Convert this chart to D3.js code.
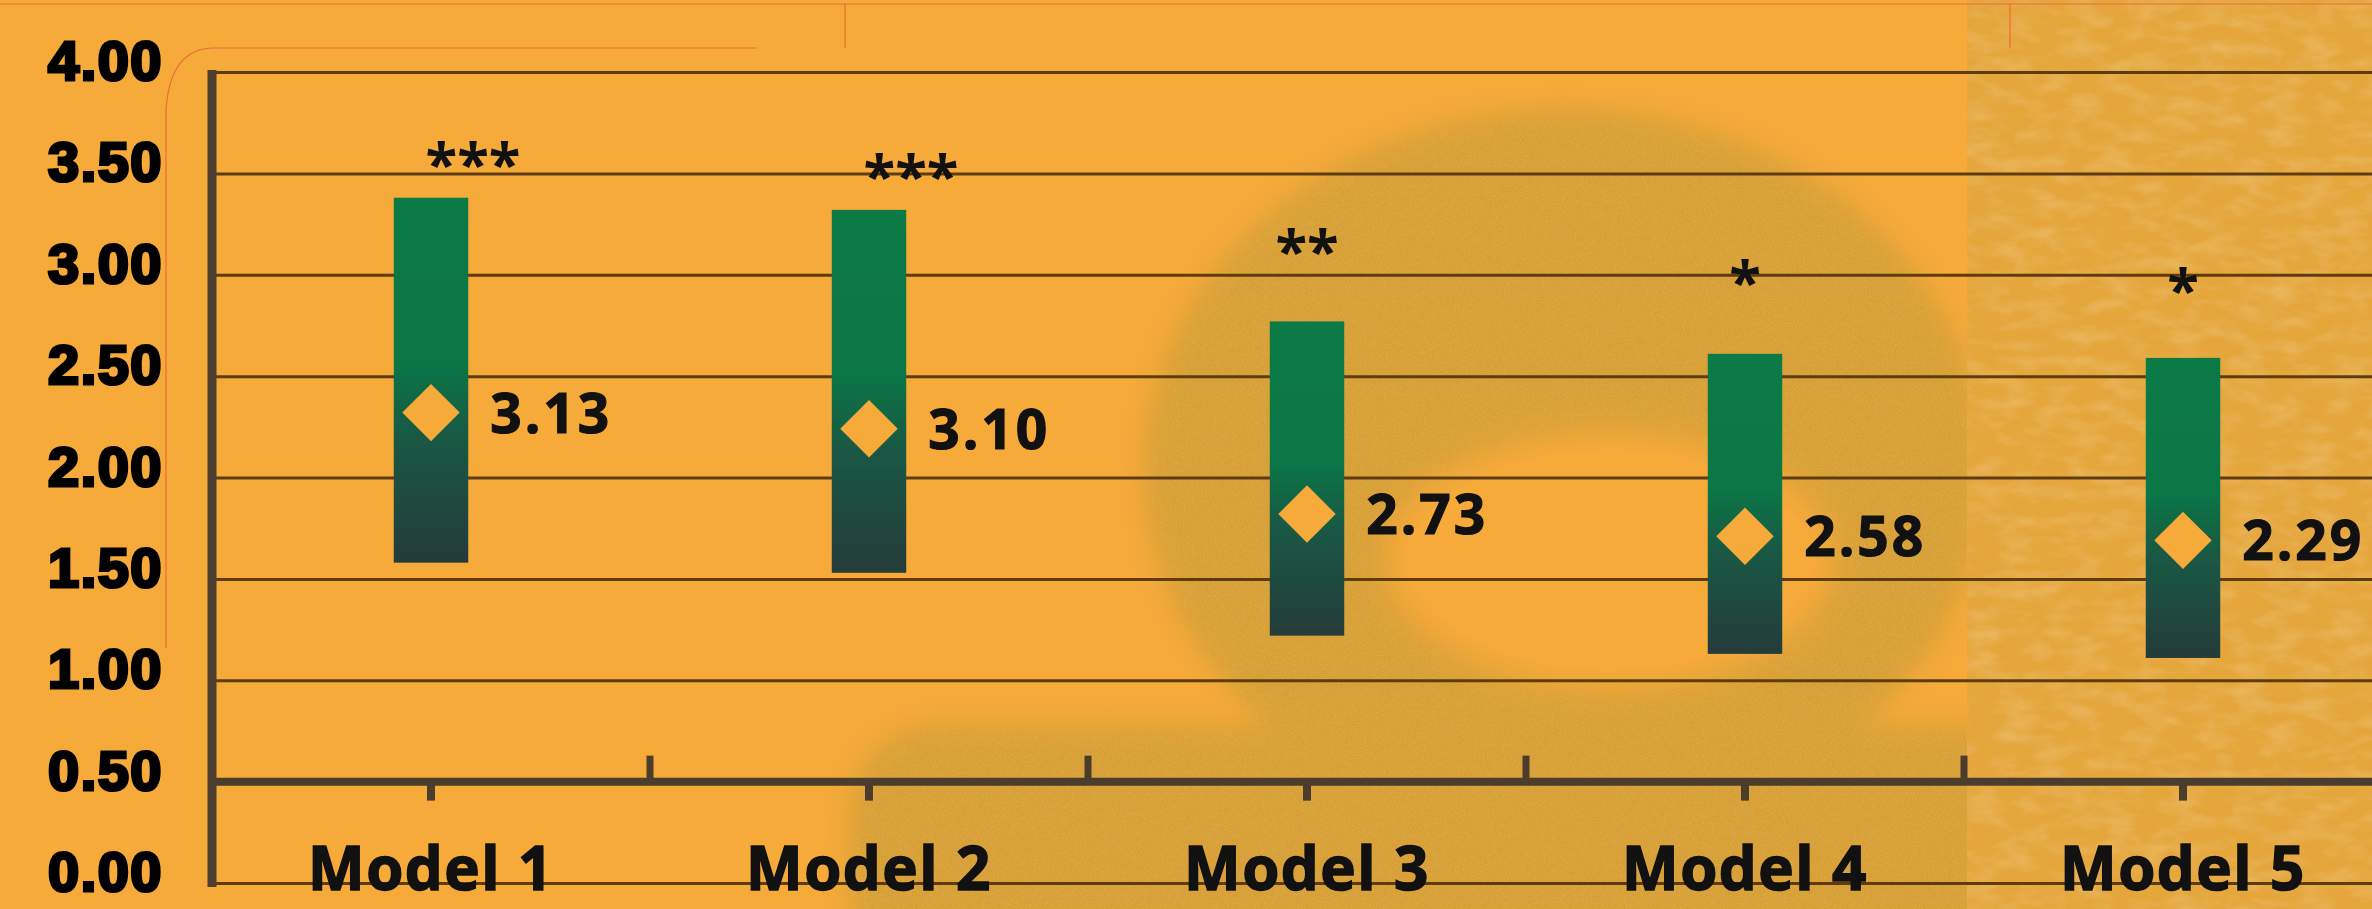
<!DOCTYPE html>
<html>
<head>
<meta charset="utf-8">
<script src="https://cdn.jsdelivr.net/npm/d3@7"></script>
<style>
  html, body { margin: 0; padding: 0; background: #f5aa3a; overflow: hidden; }
</style>
</head>
<body>
<div id="chart"></div>
<script>
const W = 2372
const H = 909

// chart values
const models = ["Model 1", "Model 2", "Model 3", "Model 4", "Model 5"]
const upper = [3.38, 3.32, 2.77, 2.61, 2.59]
const lower = [1.58, 1.53, 1.22, 1.13, 1.11]
const point = [2.32, 2.24, 1.82, 1.71, 1.69]
const valueLabels = ["3.13", "3.10", "2.73", "2.58", "2.29"]
const stars = ["***", "***", "**", "*", "*"]
const starLevel = [3.59, 3.53, 3.16, 3.01, 2.97]
const yTicks = [0, 0.5, 1, 1.5, 2, 2.5, 3, 3.5, 4]

const rows = models.map((m, i) => ({
    model: m, hi: upper[i], lo: lower[i], mid: point[i],
    label: valueLabels[i], star: stars[i], starAt: starLevel[i]
}))

const svg = d3.select("#chart")
    .append("svg")
    .attr("width", W)
    .attr("height", H)

const defs = svg.append("defs")

// grain for the faded letter in the background
const grain = defs.append("filter").attr("id", "grain")
    .attr("x", 0).attr("y", 0).attr("width", "100%").attr("height", "100%")
grain.append("feTurbulence").attr("type", "fractalNoise")
    .attr("baseFrequency", 1.1).attr("numOctaves", 1).attr("seed", 4).attr("result", "n")
grain.append("feColorMatrix").attr("in", "n").attr("type", "matrix")
    .attr("values", "0 0 0 0 0.64  0 0 0 0 0.42  0 0 0 0 0.06  0 0 0 3.6 -1.55")
    .attr("result", "dots")
grain.append("feFlood").attr("flood-color", "#dc9c34").attr("result", "base")
grain.append("feComposite").attr("in", "dots").attr("in2", "base").attr("operator", "over")

const grain2 = defs.append("filter").attr("id", "grain2")
    .attr("x", 0).attr("y", 0).attr("width", "100%").attr("height", "100%")
grain2.append("feTurbulence").attr("type", "fractalNoise")
    .attr("baseFrequency", "0.03 0.07").attr("numOctaves", 3).attr("seed", 9).attr("result", "n")
grain2.append("feColorMatrix").attr("in", "n").attr("type", "matrix")
    .attr("values", "0 0 0 0 0.93  0 0 0 0 0.70  0 0 0 0 0.28  0 0 0 0.5 -0.2")
    .attr("result", "dots")
grain2.append("feFlood").attr("flood-color", "#e5a63b").attr("result", "base")
grain2.append("feComposite").attr("in", "dots").attr("in2", "base").attr("operator", "over")

const soft = defs.append("filter").attr("id", "soft")
soft.append("feGaussianBlur").attr("stdDeviation", 12)

const mask = defs.append("mask").attr("id", "gmask")
    .attr("maskUnits", "userSpaceOnUse").attr("x", 0).attr("y", 0).attr("width", W).attr("height", H)
const mg = mask.append("g").attr("filter", "url(#soft)")
mg.append("ellipse").attr("cx", 1565).attr("cy", 470).attr("rx", 420).attr("ry", 360).attr("fill", "white")
mg.append("rect").attr("x", 850).attr("y", 725).attr("width", 1200).attr("height", 260).attr("rx", 90).attr("fill", "white")
mg.append("ellipse").attr("cx", 1610).attr("cy", 560).attr("rx", 235).attr("ry", 140).attr("fill", "black")

const grad = defs.append("linearGradient").attr("id", "barFill")
    .attr("x1", 0).attr("y1", 0).attr("x2", 0).attr("y2", 1)
grad.append("stop").attr("offset", "0%").attr("stop-color", "#0b7a45")
grad.append("stop").attr("offset", "45%").attr("stop-color", "#0b7646")
grad.append("stop").attr("offset", "66%").attr("stop-color", "#195844")
grad.append("stop").attr("offset", "100%").attr("stop-color", "#243b3a")

// background
svg.append("rect").attr("width", W).attr("height", H).attr("fill", "#f5aa3a")
svg.append("rect").attr("x", 0).attr("y", 0).attr("width", 1967).attr("height", H)
    .attr("filter", "url(#grain)").attr("mask", "url(#gmask)")
svg.append("rect").attr("x", 1967).attr("y", 0).attr("width", W - 1967).attr("height", H)
    .attr("filter", "url(#grain2)")

// leftover guide lines in the picture
const guide = svg.append("g").attr("stroke", "#f06a3c").attr("stroke-width", 1.2).attr("fill", "none")
guide.append("line").attr("x1", 0).attr("x2", W).attr("y1", 4).attr("y2", 4)
guide.append("path").attr("d", "M757,48 H214 Q170,48 166,110 V648")
guide.append("line").attr("x1", 845).attr("x2", 845).attr("y1", 4).attr("y2", 48)
guide.append("line").attr("x1", 2010).attr("x2", 2010).attr("y1", 4).attr("y2", 48)

const x = d3.scaleBand().domain(models).range([212, 2402])
const y = d3.scaleLinear().domain([0, 4]).range([883, 72])

// gridlines
svg.append("g")
    .attr("transform", "translate(212,0)")
    .call(d3.axisLeft(y).tickValues(yTicks.filter(t => t !== 0.5)).tickSize(-(W - 212)).tickFormat(""))
    .call(g => g.select(".domain").remove())
    .call(g => g.selectAll(".tick line").attr("stroke", "#5e3c12").attr("stroke-width", 3))

// y labels
svg.append("g")
    .selectAll("text")
    .data(yTicks)
    .join("text")
    .attr("x", 163)
    .attr("y", d => y(d) + 8)
    .attr("text-anchor", "end")
    .attr("font-family", "Liberation Sans, Arial, sans-serif")
    .attr("font-weight", 700)
    .attr("font-size", 56)
    .attr("letter-spacing", 1.5)
    .attr("stroke", "#000")
    .attr("stroke-width", 3.2)
    .attr("fill", "#000")
    .text(d3.format(".2f"))

// category axis crossing at 0.5
const axisY = y(0.5)
svg.append("line").attr("x1", 212).attr("x2", W).attr("y1", axisY).attr("y2", axisY)
    .attr("stroke", "#4a3d2c").attr("stroke-width", 8)
svg.append("g")
    .selectAll("line")
    .data(models)
    .join("line")
    .attr("x1", d => x(d) + x.bandwidth() / 2)
    .attr("x2", d => x(d) + x.bandwidth() / 2)
    .attr("y1", axisY)
    .attr("y2", axisY + 19)
    .attr("stroke", "#4a3d2c").attr("stroke-width", 8)
svg.append("g")
    .selectAll("line")
    .data(models.slice(1))
    .join("line")
    .attr("x1", d => x(d))
    .attr("x2", d => x(d))
    .attr("y1", axisY)
    .attr("y2", axisY - 26)
    .attr("stroke", "#4a3d2c").attr("stroke-width", 7)

// value axis
svg.append("line").attr("x1", 212).attr("x2", 212).attr("y1", y(4) - 2).attr("y2", y(0) + 4)
    .attr("stroke", "#4d3f2e").attr("stroke-width", 9)

// range bars
const barW = x.bandwidth() * 0.17
const cx = d => x(d.model) + x.bandwidth() / 2

svg.append("g")
    .selectAll("rect")
    .data(rows)
    .join("rect")
    .attr("x", d => cx(d) - barW / 2)
    .attr("y", d => y(d.hi))
    .attr("width", barW)
    .attr("height", d => y(d.lo) - y(d.hi))
    .attr("fill", "url(#barFill)")

// diamonds
svg.append("g")
    .selectAll("path")
    .data(rows)
    .join("path")
    .attr("d", d3.symbol(d3.symbolSquare, 1650))
    .attr("transform", d => `translate(${cx(d)},${y(d.mid)}) rotate(45)`)
    .attr("fill", "#f5aa3a")

// value labels
svg.append("g")
    .selectAll("text")
    .data(rows)
    .join("text")
    .attr("x", d => cx(d) + barW / 2 + 22)
    .attr("y", d => y(d.mid) + 20)
    .attr("font-family", "Open Sans, sans-serif")
    .attr("font-weight", 700)
    .attr("font-size", 55)
    .attr("letter-spacing", 3)
    .attr("stroke", "#111")
    .attr("stroke-width", 1.2)
    .attr("fill", "#111")
    .text(d => d.label)

// significance stars
svg.append("g")
    .selectAll("text")
    .data(rows)
    .join("text")
    .attr("x", d => cx(d) + (d.star.length === 3 ? 42 : 0))
    .attr("y", d => y(d.starAt) + 30)
    .attr("text-anchor", "middle")
    .attr("font-family", "Open Sans, sans-serif")
    .attr("font-weight", 700)
    .attr("font-size", 58)
    .attr("fill", "#111")
    .text(d => d.star)

// category labels
svg.append("g")
    .selectAll("text")
    .data(models)
    .join("text")
    .attr("x", d => x(d) + x.bandwidth() / 2)
    .attr("y", 890)
    .attr("text-anchor", "middle")
    .attr("font-family", "Open Sans, sans-serif")
    .attr("font-weight", 700)
    .attr("font-size", 60)
    .attr("letter-spacing", 1.5)
    .attr("stroke", "#111")
    .attr("stroke-width", 1.5)
    .attr("fill", "#111")
    .text(d => d)
</script>
</body>
</html>
